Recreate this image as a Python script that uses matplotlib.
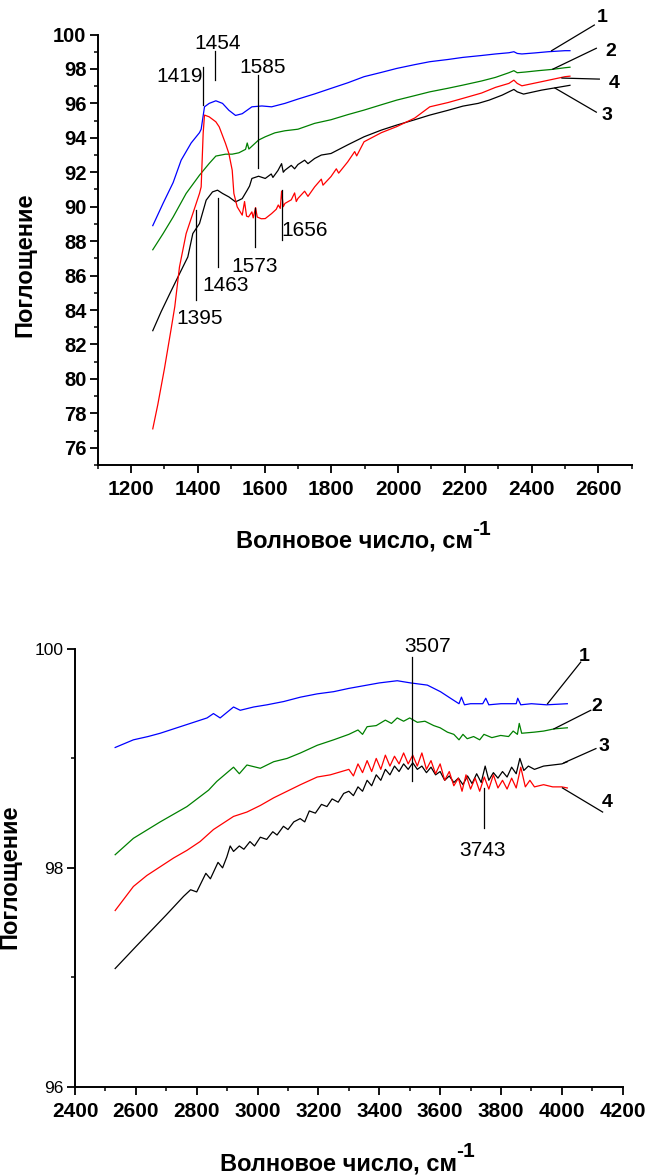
import matplotlib
matplotlib.use("Agg")
import matplotlib.pyplot as plt
from matplotlib.ticker import MultipleLocator

plt.rcParams['font.family'] = ['Liberation Sans', 'DejaVu Sans']

# ---- region 1100-2700 cm-1 (top panel) ----
top_x1 = [1265, 1296, 1326, 1350, 1380, 1405, 1410, 1420, 1434, 1454, 1474, 1493,
          1513, 1533, 1562, 1592, 1621, 1661, 1700, 1750, 1799, 1850, 1898, 1950,
          1996, 2050, 2095, 2150, 2194, 2250, 2292, 2332, 2347, 2357, 2371, 2410,
          2450, 2500, 2515]
top_y1 = [88.9, 90.2, 91.4, 92.7, 93.7, 94.3, 94.5, 95.8, 96.0, 96.15, 96.0, 95.6,
          95.3, 95.4, 95.8, 95.85, 95.8, 96.0, 96.25, 96.55, 96.87, 97.2, 97.55, 97.8,
          98.03, 98.25, 98.42, 98.55, 98.67, 98.78, 98.87, 98.94, 99.0, 98.9, 98.87, 98.93,
          99.0, 99.06, 99.06]

top_x2 = [1265, 1296, 1326, 1365, 1405, 1434, 1454, 1483, 1503, 1523, 1543, 1548,
          1553, 1582, 1602, 1631, 1661, 1700, 1750, 1799, 1850, 1898, 1950, 1996,
          2050, 2095, 2150, 2194, 2250, 2292, 2332, 2347, 2357, 2381, 2420, 2460,
          2500, 2515]
top_y2 = [87.5, 88.44, 89.4, 90.77, 91.83, 92.51, 92.94, 93.05, 93.05, 93.13, 93.33, 93.7,
          93.35, 93.87, 94.06, 94.29, 94.41, 94.5, 94.84, 95.05, 95.35, 95.61, 95.92, 96.19,
          96.45, 96.67, 96.88, 97.06, 97.3, 97.51, 97.78, 97.9, 97.78, 97.82, 97.9, 97.97,
          98.07, 98.1]

top_x3 = [1265, 1290, 1316, 1345, 1370, 1385, 1405, 1425, 1444, 1459, 1474, 1493,
          1513, 1533, 1548, 1555, 1562, 1582, 1602, 1620, 1625, 1640, 1651, 1656,
          1661, 1680, 1690, 1700, 1720, 1730, 1750, 1770, 1799, 1850, 1898, 1950,
          1996, 2050, 2095, 2150, 2194, 2240, 2273, 2312, 2332, 2347, 2357, 2376,
          2430, 2500, 2515]
top_y3 = [82.8, 83.9, 84.95, 86.1, 87.08, 88.44, 89.02, 90.38, 90.86, 90.96, 90.77, 90.57,
          90.28, 90.47, 90.96, 91.2, 91.64, 91.77, 91.64, 91.9, 91.7, 92.1, 92.5, 92.0,
          92.12, 92.4, 92.2, 92.45, 92.7, 92.5, 92.8, 93.0, 93.09, 93.6, 94.06, 94.45,
          94.74, 95.05, 95.32, 95.6, 95.84, 96.0, 96.19, 96.48, 96.67, 96.81, 96.67, 96.54,
          96.77, 97.0, 97.05]

top_x4 = [1265, 1280, 1300, 1320, 1331, 1345, 1365, 1385, 1405, 1410, 1416, 1420,
          1434, 1454, 1464, 1483, 1493, 1503, 1508, 1518, 1533, 1540, 1546, 1552,
          1562, 1566, 1573, 1578, 1590, 1602, 1621, 1635, 1641, 1647, 1651, 1656,
          1661, 1680, 1690, 1695, 1700, 1720, 1730, 1750, 1770, 1775, 1799, 1815,
          1822, 1849, 1870, 1876, 1898, 1950, 1996, 2050, 2095, 2150, 2194, 2250,
          2292, 2332, 2347, 2357, 2371, 2430, 2500, 2515]
top_y4 = [77.1, 78.5, 80.6, 82.9, 84.2, 86.5, 88.44, 89.6, 90.77, 91.15, 94.26, 95.32,
          95.22, 94.93, 94.64, 93.67, 93.09, 92.12, 90.77, 89.99, 89.51, 90.3, 89.45, 89.41,
          89.7, 89.35, 89.95, 89.4, 89.3, 89.31, 89.6, 89.85, 90.1, 89.9, 90.9, 90.0,
          90.19, 90.4, 90.8, 90.3, 90.48, 90.9, 90.6, 91.15, 91.6, 91.25, 91.75, 92.2,
          91.95, 92.6, 93.2, 92.95, 93.77, 94.3, 94.65, 95.15, 95.8, 96.05, 96.29, 96.6,
          96.93, 97.16, 97.35, 97.16, 97.02, 97.26, 97.55, 97.58]

# ---- region 2400-4200 cm-1 (bottom panel) ----
bot_x1 = [2532, 2592, 2640, 2680, 2768, 2834, 2855, 2877, 2921, 2943, 2987, 3031,
          3086, 3141, 3196, 3250, 3300, 3360, 3400, 3459, 3503, 3558, 3601, 3634,
          3662, 3670, 3680, 3700, 3740, 3750, 3760, 3800, 3850, 3855, 3865, 3900,
          3950, 4018]
bot_y1 = [99.10, 99.17, 99.20, 99.23, 99.31, 99.37, 99.41, 99.37, 99.47, 99.44, 99.47, 99.49,
          99.52, 99.56, 99.59, 99.61, 99.64, 99.67, 99.69, 99.71, 99.69, 99.67, 99.61, 99.55,
          99.50, 99.56, 99.49, 99.50, 99.50, 99.55, 99.49, 99.50, 99.50, 99.55, 99.49, 99.50,
          99.49, 99.50]

bot_x2 = [2532, 2592, 2680, 2768, 2839, 2866, 2921, 2940, 2965, 3009, 3053, 3097,
          3141, 3196, 3250, 3300, 3330, 3345, 3360, 3390, 3420, 3440, 3459, 3480,
          3500, 3525, 3550, 3579, 3600, 3624, 3645, 3662, 3675, 3689, 3710, 3730,
          3744, 3770, 3799, 3825, 3840, 3854, 3860, 3868, 3909, 3940, 3975, 4018]
bot_y2 = [98.12, 98.27, 98.42, 98.56, 98.71, 98.79, 98.92, 98.86, 98.94, 98.91, 98.97, 99.00,
          99.05, 99.12, 99.17, 99.22, 99.26, 99.22, 99.29, 99.30, 99.35, 99.32, 99.37, 99.34,
          99.37, 99.33, 99.34, 99.30, 99.28, 99.24, 99.22, 99.17, 99.22, 99.18, 99.20, 99.17,
          99.22, 99.19, 99.21, 99.20, 99.25, 99.22, 99.32, 99.23, 99.24, 99.25, 99.27, 99.28]

bot_x3 = [2532, 2600, 2700, 2757, 2780, 2800, 2830, 2845, 2870, 2885, 2899, 2910,
          2921, 2940, 2955, 2975, 2990, 3009, 3030, 3050, 3064, 3085, 3100, 3119,
          3140, 3155, 3170, 3190, 3210, 3228, 3245, 3265, 3283, 3300, 3315, 3330,
          3345, 3360, 3375, 3390, 3405, 3420, 3435, 3450, 3465, 3480, 3495, 3510,
          3525, 3540, 3555, 3570, 3585, 3600, 3615, 3630, 3645, 3660, 3675, 3690,
          3705, 3720, 3735, 3748, 3760, 3775, 3790, 3805, 3820, 3835, 3850, 3862,
          3875, 3890, 3910, 3940, 3970, 4000, 4018]
bot_y3 = [97.08, 97.28, 97.57, 97.74, 97.80, 97.78, 97.95, 97.90, 98.05, 98.00, 98.10, 98.20,
          98.15, 98.20, 98.17, 98.24, 98.20, 98.28, 98.26, 98.33, 98.30, 98.38, 98.35, 98.42,
          98.45, 98.42, 98.52, 98.50, 98.58, 98.56, 98.63, 98.60, 98.68, 98.70, 98.66, 98.74,
          98.70, 98.80, 98.75, 98.85, 98.80, 98.90, 98.85, 98.93, 98.88, 98.95, 98.90, 98.96,
          98.90, 98.93, 98.87, 98.92, 98.85, 98.88, 98.80, 98.84, 98.78, 98.82, 98.76, 98.84,
          98.77, 98.86, 98.78, 98.93, 98.80, 98.87, 98.82, 98.88, 98.83, 98.92, 98.86, 99.00,
          98.89, 98.93, 98.90, 98.93, 98.94, 98.95, 98.97]

bot_x4 = [2532, 2592, 2636, 2680, 2724, 2768, 2811, 2855, 2921, 2965, 3009, 3053,
          3097, 3141, 3196, 3239, 3300, 3315, 3330, 3345, 3360, 3375, 3390, 3405,
          3420, 3435, 3450, 3465, 3480, 3495, 3510, 3525, 3540, 3555, 3570, 3585,
          3600, 3615, 3630, 3645, 3660, 3672, 3685, 3700, 3715, 3730, 3745, 3760,
          3775, 3790, 3805, 3820, 3835, 3850, 3865, 3880, 3895, 3910, 3940, 3970,
          4000, 4018]
bot_y4 = [97.61, 97.83, 97.93, 98.01, 98.09, 98.16, 98.24, 98.35, 98.47, 98.51, 98.57, 98.64,
          98.70, 98.76, 98.83, 98.85, 98.90, 98.84, 98.95, 98.87, 98.98, 98.88, 99.00, 98.90,
          99.03, 98.93, 99.02, 98.95, 99.05, 98.95, 99.03, 98.93, 99.05, 98.90, 98.98, 98.86,
          98.95, 98.80, 98.88, 98.75, 98.82, 98.70, 98.85, 98.72, 98.82, 98.70, 98.83, 98.72,
          98.85, 98.73, 98.80, 98.72, 98.82, 98.73, 98.92, 98.74, 98.80, 98.74, 98.76, 98.74,
          98.74, 98.73]

colors = ['#0000ff', '#008000', '#000000', '#ff0000']

# peak marks: (label, x, y_line_start, y_line_end, text_x, text_y)
top_peaks = [('1419', 1416, 98.1, 95.9, 1345, 97.55),
             ('1454', 1452, 99.06, 97.35, 1460, 99.5),
             ('1585', 1581, 97.65, 92.24, 1595, 98.1),
             ('1463', 1461, 90.5, 86.5, 1482, 85.45),
             ('1573', 1570, 89.9, 87.65, 1570, 86.55),
             ('1656', 1651, 90.96, 88.05, 1720, 88.6),
             ('1395', 1395, 89.8, 84.6, 1405, 83.5)]
bot_peaks = [('3507', 3506, 99.93, 98.79, 3560, 100.02),
             ('3743', 3744, 98.73, 98.36, 3739, 98.16)]

# curve numbers: (name, text_x, text_y, line x0, y0, x1, y1)
top_nums = [('1', 2612, 100.96, 2460, 99.06, 2588, 100.55),
            ('2', 2638, 99.04, 2464, 97.99, 2594, 99.2),
            ('4', 2647, 97.18, 2491, 97.47, 2603, 97.41),
            ('3', 2627, 95.32, 2470, 96.89, 2594, 95.49)]
bot_nums = [('1', 4073, 99.93, 3953, 99.50, 4062, 99.88),
            ('2', 4115, 99.47, 3974, 99.27, 4095, 99.44),
            ('3', 4137, 99.11, 4007, 98.96, 4112, 99.09),
            ('4', 4148, 98.60, 4002, 98.73, 4134, 98.51)]

fig = plt.figure(figsize=(6.46, 11.75), dpi=100)
W, H = 646.0, 1175.0
ax1 = fig.add_axes([97.7 / W, 1 - 465 / H, 534 / W, 430.5 / H])
ax2 = fig.add_axes([75 / W, 1 - 1086.7 / H, 547.7 / W, 437.7 / H])


def style_axes(ax, xlim, ylim, xticks, yticks, ybold, ysize):
    ax.set_xlim(*xlim)
    ax.set_ylim(*ylim)
    for side in ('top', 'right'):
        ax.spines[side].set_visible(False)
    for side in ('left', 'bottom'):
        ax.spines[side].set_linewidth(1.4)
    ax.set_xticks(xticks, labels=[str(t) for t in xticks], fontweight='bold', fontsize=15)
    ax.set_yticks(yticks, labels=[str(t) for t in yticks],
                  fontweight='bold' if ybold else 'normal', fontsize=ysize)
    ax.xaxis.set_minor_locator(MultipleLocator(100))
    ax.yaxis.set_minor_locator(MultipleLocator(1))
    ax.tick_params(which='major', direction='out', length=6, width=1.3)
    ax.tick_params(which='minor', direction='out', length=3, width=1.1)
    ax.tick_params(axis='x', pad=5)
    ax.tick_params(axis='y', pad=2)


# top panel
for xs, ys, c in zip([top_x1, top_x2, top_x3, top_x4],
                     [top_y1, top_y2, top_y3, top_y4], colors):
    ax1.plot(xs, ys, color=c, lw=0.9)
style_axes(ax1, (1100, 2700), (75, 100), list(range(1200, 2601, 200)),
           list(range(76, 101, 2)), True, 14.5)

# bottom panel
for xs, ys, c in zip([bot_x1, bot_x2, bot_x3, bot_x4],
                     [bot_y1, bot_y2, bot_y3, bot_y4], colors):
    ax2.plot(xs, ys, color=c, lw=0.9)
style_axes(ax2, (2400, 4200), (96, 100), list(range(2400, 4201, 200)),
           [96, 98, 100], False, 12.5)

for ax, peaks in ((ax1, top_peaks), (ax2, bot_peaks)):
    for lab, x, y0, y1, tx, ty in peaks:
        ax.plot([x, x], [y0, y1], color='black', lw=0.9, clip_on=False)
        ax.text(tx, ty, lab, fontsize=15, ha='center', va='center')

for ax, nums in ((ax1, top_nums), (ax2, bot_nums)):
    for lab, tx, ty, x0, y0, x1, y1 in nums:
        ax.plot([x0, x1], [y0, y1], color='black', lw=0.9, clip_on=False)
        ax.text(tx, ty, lab, fontsize=14, fontweight='bold',
                ha='center', va='center', clip_on=False)

# axis titles, the "-1" drawn as a raised piece after the main text
for ax, cx, base in ((ax1, 354, 548), (ax2, 338, 1170)):
    t = fig.text(cx / W, 1 - base / H, 'Волновое число, см', fontsize=17,
                 fontweight='bold', ha='center', va='baseline')
    ax.annotate('-1', xy=(1.0, 0.6), xycoords=t, fontsize=15, fontweight='bold',
                ha='left', va='bottom', annotation_clip=False)

fig.text(25 / W, 1 - 265 / H, 'Поглощение', fontsize=17, fontweight='bold',
         rotation=90, ha='center', va='center')
fig.text(10 / W, 1 - 877 / H, 'Поглощение', fontsize=17, fontweight='bold',
         rotation=90, ha='center', va='center')

fig.savefig('out.png', dpi=100)
